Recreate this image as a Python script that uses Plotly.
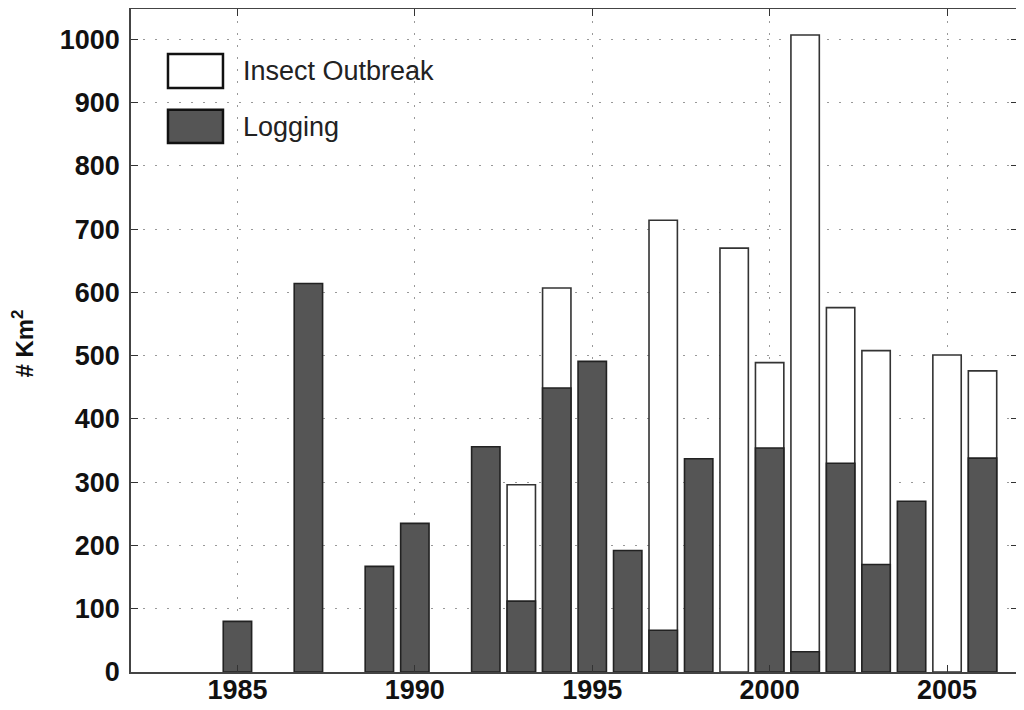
import plotly.graph_objects as go

insect_years = [1993, 1994, 1997, 1999, 2000, 2001, 2002, 2003, 2005, 2006]
insect_vals = [296, 607, 714, 670, 489, 1007, 576, 508, 501, 476]

logging_years = [1985, 1987, 1989, 1990, 1992, 1993, 1994, 1995, 1996, 1997,
                 1998, 2000, 2001, 2002, 2003, 2004, 2006]
logging_vals = [80, 614, 167, 235, 356, 112, 449, 491, 192, 66,
                337, 354, 32, 330, 170, 270, 338]

x_ticks = [1985, 1990, 1995, 2000, 2005]
y_ticks = list(range(0, 1001, 100))

FONT = "Liberation Sans, Arial, sans-serif"

fig = go.Figure()
fig.add_trace(go.Bar(x=insect_years, y=insect_vals, width=0.8, name="Insect Outbreak",
                     marker=dict(color="white", line=dict(color="#333333", width=1.6))))
fig.add_trace(go.Bar(x=logging_years, y=logging_vals, width=0.8, name="Logging",
                     marker=dict(color="#555555", line=dict(color="#222222", width=1.6))))

# legend drawn manually (MATLAB style big swatches)
fig.add_shape(type="rect", xref="paper", yref="paper", x0=0.0417, x1=0.1037, y0=0.881, y1=0.932,
              fillcolor="white", line=dict(color="#111111", width=2.5))
fig.add_shape(type="rect", xref="paper", yref="paper", x0=0.0417, x1=0.1037, y0=0.798, y1=0.848,
              fillcolor="#555555", line=dict(color="#111111", width=2.5))
fig.add_annotation(xref="paper", yref="paper", x=0.124, y=0.9065, text="Insect Outbreak",
                   showarrow=False, xanchor="left", yanchor="middle",
                   font=dict(family=FONT, size=27, color="#222222"))
fig.add_annotation(xref="paper", yref="paper", x=0.124, y=0.822, text="Logging",
                   showarrow=False, xanchor="left", yanchor="middle",
                   font=dict(family=FONT, size=27, color="#222222"))

# y-axis title
fig.add_annotation(xref="paper", yref="paper", x=-0.122, y=0.495, text="<b># Km<sup>2</sup></b>",
                   showarrow=False, xanchor="center", yanchor="middle", textangle=-90,
                   font=dict(family=FONT, size=24, color="#111111"))

fig.update_layout(
    width=1016, height=702,
    margin=dict(l=123, r=6, t=1, b=38),
    paper_bgcolor="white", plot_bgcolor="white",
    barmode="overlay", showlegend=False,
    font=dict(family=FONT, color="#111111"),
)
common = dict(tickfont=dict(size=27, family=FONT, color="#111111"),
              ticks="inside", ticklen=7, tickcolor="#333333", showline=True, linecolor="#444444",
              linewidth=1.5, mirror="ticks", showgrid=True, gridcolor="#999999",
              griddash="2px,10px", gridwidth=1.3, zeroline=False, automargin=False)
fig.update_xaxes(range=[1982, 2007], tickvals=x_ticks, ticktext=[f"<b>{t}</b>" for t in x_ticks],
                 ticklabelstandoff=-7, **common)
fig.update_yaxes(range=[0, 1048], tickvals=y_ticks, ticktext=[f"<b>{t}</b>" for t in y_ticks],
                 ticklabelstandoff=4, **common)

fig.write_html("out.html")
